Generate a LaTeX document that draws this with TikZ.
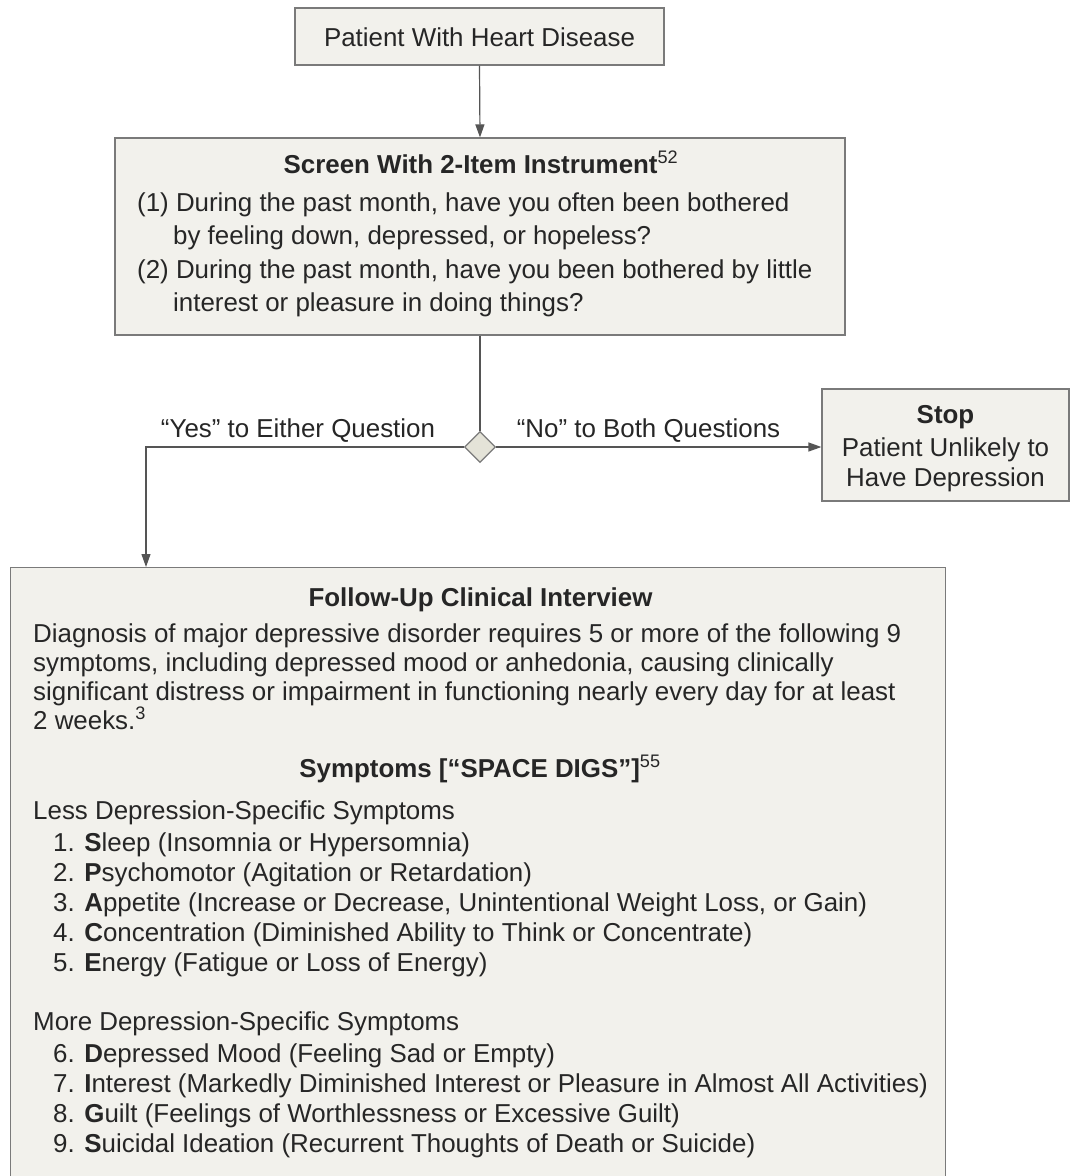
\documentclass[tikz,border=0pt]{standalone}
\usepackage{fontspec}
\setmainfont{Liberation Sans}
\usetikzlibrary{arrows.meta,shapes.geometric}
\definecolor{boxfill}{HTML}{F2F1EC}
\definecolor{boxline}{HTML}{7A7A7A}
\definecolor{linec}{HTML}{555555}
\definecolor{txt}{HTML}{262626}
\definecolor{dfill}{HTML}{E4E3D8}
\newcommand{\fs}{\fontsize{25.9}{30}\selectfont}
\begin{document}
\begin{tikzpicture}[x=1pt,y=-1pt,
  box/.style={draw=boxline, fill=boxfill, line width=1.2pt, inner sep=0pt},
  lbl/.style={anchor=base west, inner sep=0pt, text=txt, font=\fs},
  ctr/.style={anchor=base, inner sep=0pt, text=txt, font=\fs},
  conn/.style={draw=linec, line width=1.2pt},
  arr/.style={conn, -{Triangle[length=13pt,width=9pt]}}]
\useasboundingbox (0,0) rectangle (1070,1176);
\fill[white] (0,0) rectangle (1070,1176);
% boxes
\node[box, minimum width=369pt, minimum height=57pt] (top) at (479.5,36.5) {};
\node[box, minimum width=730pt, minimum height=197pt] (screen) at (480,236.5) {};
\node[box, minimum width=247pt, minimum height=112pt] (stop) at (945.5,445) {};
\node[box, minimum width=935pt, minimum height=615pt, anchor=north west] (fu) at (10,567) {};
\node[diamond, draw=boxline, fill=dfill, line width=1.2pt, minimum width=31pt, minimum height=31pt, inner sep=0pt] (dia) at (480,447) {};
\coordinate (yesx) at (146,0);
% connectors
\draw[arr] (top.south) -- (screen.north);
\draw[conn] (screen.south) -- (dia.north);
\draw[arr] (dia.east) -- (dia.east -| stop.west);
\draw[arr] (dia.west) -| (fu.north -| yesx);
% texts
\node[ctr] (t1) at (479.5,46) {Patient With Heart Disease};
\node[ctr] (s0) at (481,173) {\bfseries Screen With 2-Item Instrument\textsuperscript{\mdseries 52}};
\node[lbl] (s1) at (137,211) {(1) During the past month, have you often been bothered};
\node[lbl] (s2) at (173,244) {by feeling down, depressed, or hopeless?};
\node[lbl] (s3) at (137,278) {(2) During the past month, have you been bothered by little};
\node[lbl] (s4) at (173,311) {interest or pleasure in doing things?};
\node[ctr] (yes) at (298,437) {“Yes” to Either Question};
\node[ctr] (no) at (648.5,437) {“No” to Both Questions};
\node[ctr] (st1) at (945.5,423) {\bfseries Stop};
\node[ctr] (st2) at (945.5,456) {Patient Unlikely to};
\node[ctr] (st3) at (945.5,486) {Have Depression};
\node[ctr] (f0) at (480.5,606) {\bfseries Follow-Up Clinical Interview};
\node[lbl] (p1) at (33,642) {Diagnosis of major depressive disorder requires 5 or more of the following 9};
\node[lbl] (p2) at (33,671) {symptoms, including depressed mood or anhedonia, causing clinically};
\node[lbl] (p3) at (33,700) {significant distress or impairment in functioning nearly every day for at least};
\node[lbl] (p4) at (33,729) {2 weeks.\textsuperscript{3}};
\node[ctr] (sy) at (480,777) {\bfseries Symptoms [“SPACE DIGS”]\textsuperscript{\mdseries 55}};
\node[lbl] (less) at (33,819) {Less Depression-Specific Symptoms};
\node[lbl] (i1) at (53,851) {1. \textbf{S}leep (Insomnia or Hypersomnia)};
\node[lbl] (i2) at (53,881) {2. \textbf{P}sychomotor (Agitation or Retardation)};
\node[lbl] (i3) at (53,911) {3. \textbf{A}ppetite (Increase or Decrease, Unintentional Weight Loss, or Gain)};
\node[lbl] (i4) at (53,941) {4. \textbf{C}oncentration (Diminished Ability to Think or Concentrate)};
\node[lbl] (i5) at (53,971) {5. \textbf{E}nergy (Fatigue or Loss of Energy)};
\node[lbl] (more) at (33,1030) {More Depression-Specific Symptoms};
\node[lbl] (i6) at (53,1062) {6. \textbf{D}epressed Mood (Feeling Sad or Empty)};
\node[lbl] (i7) at (53,1092) {7. \textbf{I}nterest (Markedly Diminished Interest or Pleasure in Almost All Activities)};
\node[lbl] (i8) at (53,1122) {8. \textbf{G}uilt (Feelings of Worthlessness or Excessive Guilt)};
\node[lbl] (i9) at (53,1152) {9. \textbf{S}uicidal Ideation (Recurrent Thoughts of Death or Suicide)};
\end{tikzpicture}
\end{document}
